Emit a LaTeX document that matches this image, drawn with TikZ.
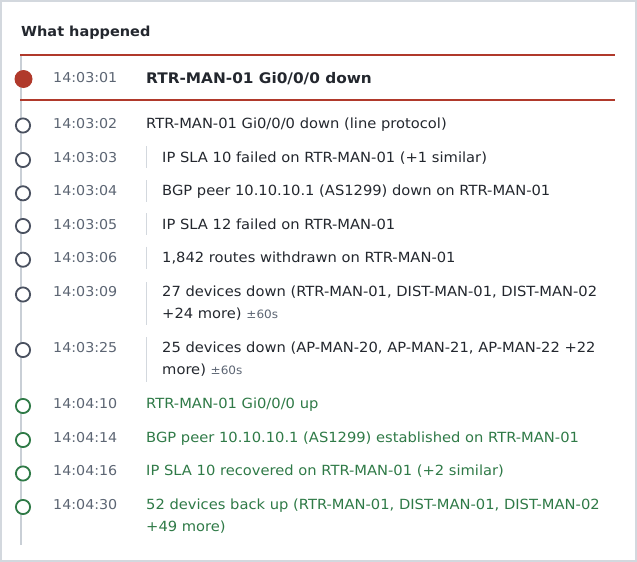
\documentclass[tikz,border=0pt]{standalone}
\usepackage{fontspec}
\setmainfont{DejaVu Sans}[FakeStretch=1.05]

\begin{document}
\begin{tikzpicture}[x=1pt,y=-1pt]
	\definecolor{framegray}{HTML}{D3D8DE}
	\definecolor{railgray}{HTML}{C9CFD6}
	\definecolor{alertred}{HTML}{B0392B}
	\definecolor{timegray}{HTML}{5C6573}
	\definecolor{textdark}{HTML}{23272E}
	\definecolor{okgreen}{HTML}{2F7A47}
	\definecolor{dotgray}{HTML}{4A5160}
	\tikzset{
		stamp/.style={anchor=base west, inner sep=0, text=timegray, font=\fontsize{13.6}{16}\selectfont},
		msg/.style={anchor=base west, inner sep=0, text=textdark, font=\fontsize{14}{16}\selectfont},
		okmsg/.style={msg, text=okgreen},
		dot/.style={circle, draw=dotgray, line width=1.8, fill=white, minimum size=14.2, inner sep=0},
		okdot/.style={dot, draw=okgreen},
		sepbar/.style={draw=framegray, line width=1},
	}
	\newcommand{\drift}{{\fontsize{11.5}{13}\selectfont\color{timegray}±60s}}
	\useasboundingbox (0,0) rectangle (637,562);
	\draw[framegray, line width=1.2] (1,1) rectangle (636,561);
	\node[anchor=base west, inner sep=0, font=\bfseries\fontsize{13.8}{17}\selectfont, text=textdark] (title) at (21,36) {What happened};
	% rail and the red band
	\draw[railgray, line width=2.2] (21,55) -- (21,545);
	\draw[alertred, line width=2] (20,55) -- (615,55);
	\draw[alertred, line width=2] (20,100) -- (615,100);
	\node[circle, fill=alertred, minimum size=18, inner sep=0] (d1) at (23.5,79) {};
	\node[stamp] (t1) at (53,82) {14:03:01};
	\node[msg, font=\bfseries\fontsize{14.6}{18}\selectfont] (m1) at (146,83) {RTR-MAN-01 Gi0/0/0 down};
	% down events
	\node[dot] (d2) at (23,125.5) {};
	\node[stamp] (t2) at (53,128) {14:03:02};
	\node[msg] (m2) at (146,128) {RTR-MAN-01 Gi0/0/0 down (line protocol)};
	\node[dot] (d3) at (23,160) {};
	\node[stamp] (t3) at (53,162) {14:03:03};
	\draw[sepbar] (146,146) -- (146,167.5);
	\node[msg] (m3) at (162,162) {IP SLA 10 failed on RTR-MAN-01 (+1 similar)};
	\node[dot] (d4) at (23,193.3) {};
	\node[stamp] (t4) at (53,195.7) {14:03:04};
	\draw[sepbar] (146,180) -- (146,201.5);
	\node[msg] (m4) at (162,195.7) {BGP peer 10.10.10.1 (AS1299) down on RTR-MAN-01};
	\node[dot] (d5) at (23,226) {};
	\node[stamp] (t5) at (53,229) {14:03:05};
	\draw[sepbar] (146,213) -- (146,235);
	\node[msg] (m5) at (162,229) {IP SLA 12 failed on RTR-MAN-01};
	\node[dot] (d6) at (23,259.7) {};
	\node[stamp] (t6) at (53,262.7) {14:03:06};
	\draw[sepbar] (146,246.5) -- (146,269);
	\node[msg] (m6) at (162,262.7) {1,842 routes withdrawn on RTR-MAN-01};
	\node[dot] (d7) at (23,294.5) {};
	\node[stamp] (t7) at (53,296.7) {14:03:09};
	\draw[sepbar] (146,282) -- (146,325);
	\node[msg] (m7) at (162,296.7) {27 devices down (RTR-MAN-01, DIST-MAN-01, DIST-MAN-02};
	\node[msg] (m7b) at (162,318.3) {+24 more) \drift};
	\node[dot] (d8) at (23,350) {};
	\node[stamp] (t8) at (53,352.7) {14:03:25};
	\draw[sepbar] (146,337) -- (146,382);
	\node[msg] (m8) at (162,352.7) {25 devices down (AP-MAN-20, AP-MAN-21, AP-MAN-22 +22};
	\node[msg] (m8b) at (162,374.3) {more) \drift};
	% recovery
	\node[okdot] (d9) at (23,406) {};
	\node[stamp] (t9) at (53,408.3) {14:04:10};
	\node[okmsg] (m9) at (146,408.3) {RTR-MAN-01 Gi0/0/0 up};
	\node[okdot] (d10) at (23,440) {};
	\node[stamp] (t10) at (53,442.3) {14:04:14};
	\node[okmsg] (m10) at (146,442.3) {BGP peer 10.10.10.1 (AS1299) established on RTR-MAN-01};
	\node[okdot] (d11) at (23,473.5) {};
	\node[stamp] (t11) at (53,475.7) {14:04:16};
	\node[okmsg] (m11) at (146,475.7) {IP SLA 10 recovered on RTR-MAN-01 (+2 similar)};
	\node[okdot] (d12) at (23,507) {};
	\node[stamp] (t12) at (53,509.3) {14:04:30};
	\node[okmsg] (m12) at (146,509.3) {52 devices back up (RTR-MAN-01, DIST-MAN-01, DIST-MAN-02};
	\node[okmsg] (m12b) at (146,531) {+49 more)};
\end{tikzpicture}
\end{document}
